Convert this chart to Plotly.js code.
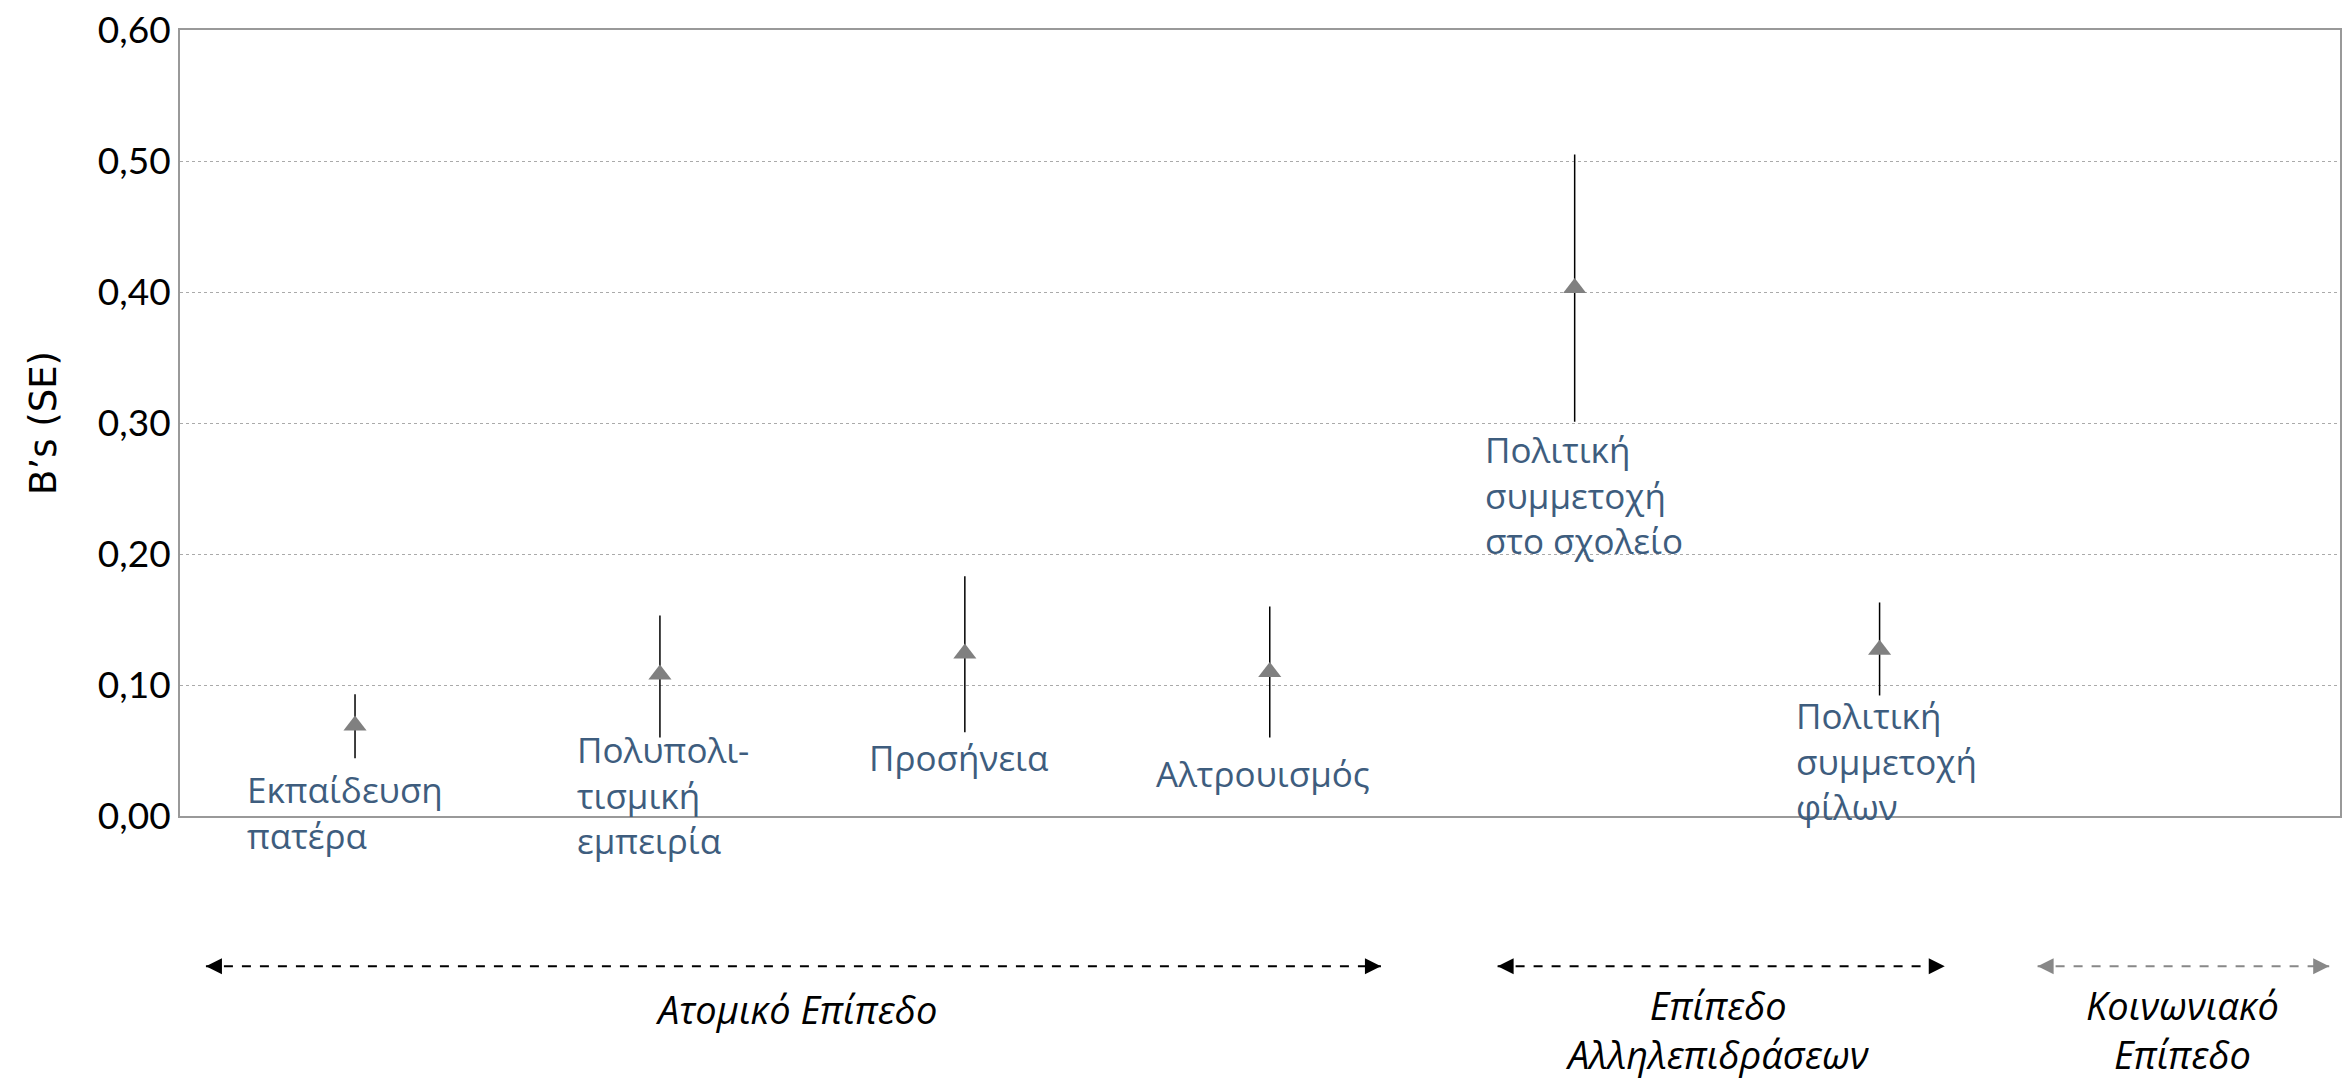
<!DOCTYPE html>
<html>
<head>
<meta charset="utf-8">
<script src="https://cdn.plot.ly/plotly-3.0.1.min.js"></script>
<style>body{margin:0;background:#fff}#chart{width:2344px;height:1081px}</style>
</head>
<body>
<div id="chart"></div>
<script>
const positions = [0, 1, 2, 3, 4, 5];
const labels = [
  "Εκπαίδευση<br>πατέρα",
  "Πολυπολι-<br>τισμική<br>εμπειρία",
  "Προσήνεια",
  "Αλτρουισμός",
  "Πολιτική<br>συμμετοχή<br>στο σχολείο",
  "Πολιτική<br>συμμετοχή<br>φίλων",
];
const coef = [0.069, 0.108, 0.124, 0.110, 0.403, 0.127];
const upper = [0.093, 0.153, 0.183, 0.160, 0.505, 0.163];
const lower = [0.044, 0.060, 0.064, 0.060, 0.301, 0.092];
const labelX = [-0.36, 0.72, 1.68, 2.62, 3.70, 4.72];
const labelY = [0.040, 0.070, 0.064, 0.052, 0.299, 0.096];
const yTicks = [0, 0.1, 0.2, 0.3, 0.4, 0.5, 0.6];

const blue = "#3e5d7e", grey = "#808080";

const trace = {
  x: positions,
  y: coef,
  type: "scatter",
  mode: "markers",
  marker: { symbol: "triangle-up", size: 20, color: grey },
  error_y: {
    type: "data",
    symmetric: false,
    array: upper.map((u, i) => u - coef[i]),
    arrayminus: coef.map((c, i) => c - lower[i]),
    color: "#000",
    thickness: 1.5,
    width: 0,
  },
  hoverinfo: "skip",
};

const annotations = labels.map((t, i) => ({
  x: labelX[i], y: labelY[i], xref: "x", yref: "y",
  text: t, showarrow: false, xanchor: "left", yanchor: "top", align: "left",
  font: { family: "Open Sans, sans-serif", size: 35, color: blue },
}));

const groups = [
  { x0: 0.012, x1: 0.556, c: 0.285, text: "Ατομικό Επίπεδο", col: "#000", ty: -0.245 },
  { x0: 0.610, x1: 0.817, c: 0.712, text: "Επίπεδο<br>Αλληλεπιδράσεων", col: "#000", ty: -0.272 },
  { x0: 0.860, x1: 0.995, c: 0.927, text: "Κοινωνιακό<br>Επίπεδο", col: "#888", ty: -0.272 },
];
const lineY = -0.191;
const shapes = [];
groups.forEach((g) => {
  shapes.push({
    type: "line", xref: "paper", yref: "paper", x0: g.x0, x1: g.x1, y0: lineY, y1: lineY,
    line: { color: g.col, width: 2, dash: "dash" },
  });
  annotations.push({
    x: g.c, y: g.ty, xref: "paper", yref: "paper", text: "<i>" + g.text + "</i>",
    showarrow: false, xanchor: "center", yanchor: "middle", align: "center",
    font: { family: "Open Sans, sans-serif", size: 38, color: "#000" },
  });
  [[g.x0, 16], [g.x1, -16]].forEach(([px, ax]) => {
    annotations.push({
      x: px, y: lineY, xref: "paper", yref: "paper", text: "", showarrow: true,
      arrowhead: 2, arrowsize: 1.6, arrowwidth: 2, arrowcolor: g.col, ax: ax, ay: 0,
    });
  });
});

const layout = {
  width: 2344, height: 1081,
  margin: { l: 180, r: 4, t: 30, b: 265 },
  paper_bgcolor: "#fff", plot_bgcolor: "#fff",
  showlegend: false,
  font: { family: "Lato, sans-serif", size: 37, color: "#000" },
  xaxis: {
    range: [-0.574, 6.51], showticklabels: false, showgrid: false, zeroline: false,
    showline: true, linecolor: "#999", linewidth: 2, mirror: true, ticks: "",
  },
  yaxis: {
    range: [0, 0.6], tickvals: yTicks, ticktext: yTicks.map((v) => v.toFixed(2).replace(".", ",")),
    showgrid: true, gridcolor: "#aaa", griddash: "dot", gridwidth: 1,
    zeroline: true, zerolinecolor: "#888", zerolinewidth: 4,
    showline: true, linecolor: "#999", linewidth: 2, mirror: true,
    ticks: "", ticklen: 0, tickfont: { size: 37 },
    title: { text: "B’s (SE)", font: { size: 37, family: "DejaVu Sans, sans-serif" }, standoff: 30 },
  },
  shapes, annotations,
};

Plotly.newPlot("chart", [trace], layout, { displayModeBar: false, staticPlot: true });
</script>
</body>
</html>
